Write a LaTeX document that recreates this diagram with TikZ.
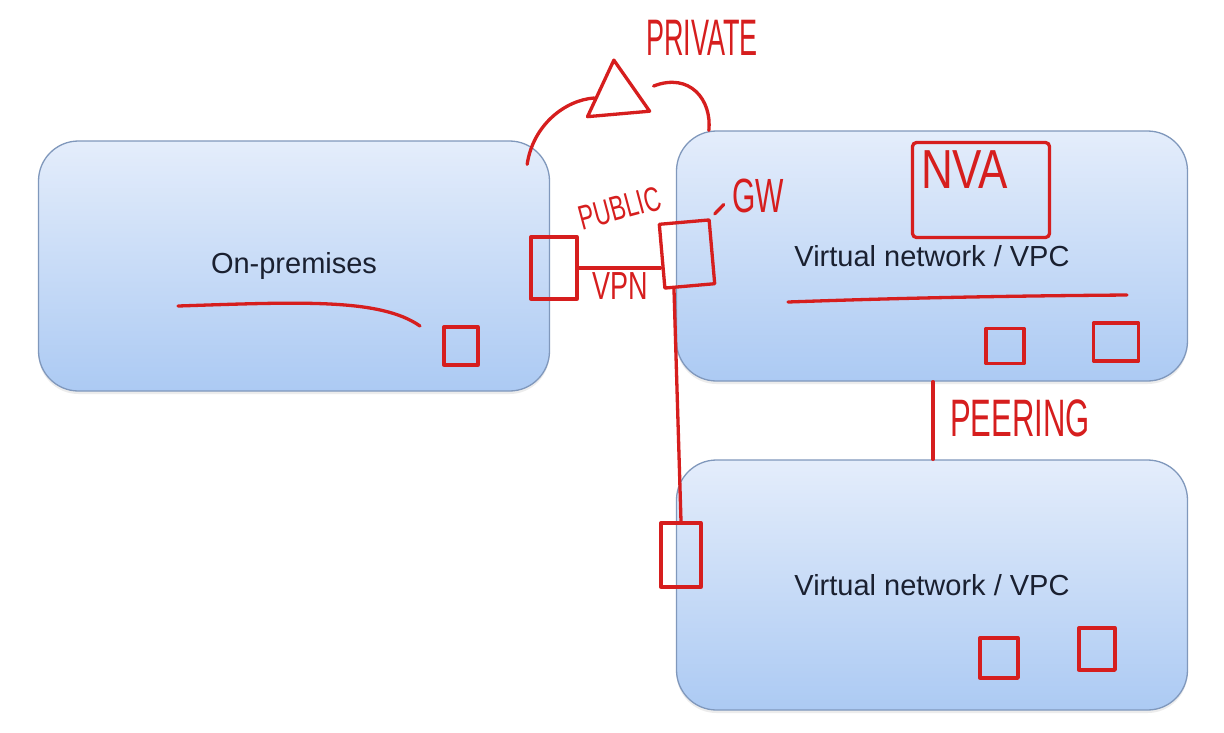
\documentclass[tikz,border=0pt]{standalone}
\usepackage{fontspec}
\setmainfont{Liberation Sans}
\usepackage{graphicx}
\usepackage{xcolor}
\usetikzlibrary{shapes.geometric, positioning, shadows}

\definecolor{boxtop}{RGB}{228,237,251}
\definecolor{boxbot}{RGB}{172,202,243}
\definecolor{boxline}{RGB}{128,152,188}
\definecolor{penred}{RGB}{214,30,30}
\definecolor{labelink}{RGB}{26,32,48}

\newcommand{\penfont}[1]{\fontsize{#1}{#1}\selectfont}
\newcommand{\tallword}[2][1.45]{\scalebox{1}[#1]{#2}}

\begin{document}
\begin{tikzpicture}[
    x=1pt, y=-1pt,
    netbox/.style={rectangle, draw=boxline, line width=1.3pt, rounded corners=40pt, top color=boxtop, bottom color=boxbot, minimum width=511pt, minimum height=250pt, text=labelink, font=\fontsize{29}{33}\selectfont, drop shadow={opacity=0.15, shadow xshift=0pt, shadow yshift=-3pt}},
    pen/.style={draw=penred, line width=3.3pt, line cap=round, line join=round},
    sq/.style={pen, rectangle, inner sep=0pt},
    hand/.style={text=penred, inner sep=0pt}
]
\fill [white] (0,0) rectangle (1224,732);
\useasboundingbox (0,0) rectangle (1224,732);

% Networks
\node (onprem) [netbox] at (294,266) {On-premises};
\node (vpc1) [netbox] at (932,256) {Virtual network / VPC};
\node (vpc2) [netbox] at (932,585) {Virtual network / VPC};

% On-premises notes
\draw [pen] (178,306) .. controls (300,302) and (380,298) .. (420,326);
\node (opsq) [sq, minimum width=34pt, minimum height=38pt] at (461,346) {};

% VPN link
\node (vpnbox) [sq, minimum width=46pt, minimum height=62pt] at (554,268) {};
\node (gw) [sq, minimum width=50pt, minimum height=64pt, rotate=5] at (687,254) {};
\draw [pen] (vpnbox.east) -- (vpnbox.east -| gw.west);
\node (vpnlabel) [hand, font=\penfont{27}] at (620,286) {\tallword{VPN}};
\node (publabel) [hand, font=\penfont{23}, rotate=15] at (620,208) {\tallword[1.5]{PUBLIC}};
\node (gwlabel) [hand, font=\penfont{30}] at (758,196) {\tallword[1.6]{GW}};
\draw [pen, shorten <=6pt, shorten >=12pt] (gw.north east) -- (gwlabel.west);

% Private path
\node (priv) [pen, regular polygon, regular polygon sides=3, minimum size=72pt, inner sep=0pt, rotate=5] at (617,96) {};
\node (privlabel) [hand, font=\penfont{27}] at (702,38) {\tallword[1.9]{PRIVATE}};
\draw [pen] ([shift={(-23,24)}]onprem.north east) .. controls (533,125) and (565,100) .. (priv.west);
\draw [pen] ([shift={(14,-8)}]priv.east) .. controls (690,72) and (712,100) .. ([xshift=33pt]vpc1.north west);

% VPC contents
\node (nva) [sq, rounded corners=4pt, minimum width=137pt, minimum height=95pt] at (981,190) {};
\node (nvalabel) [hand, font=\penfont{44}, below right=10pt and 10pt of nva.north west] {\tallword[1.25]{NVA}};
\draw [pen] (788,302) .. controls (900,298) and (1000,296) .. (1127,295);
\node (vmsq1) [sq, minimum width=38pt, minimum height=35pt] at (1005,346) {};
\node (vmsq2) [sq, minimum width=45pt, minimum height=38pt] at (1116,342) {};

% Peering
\draw [pen] ([xshift=1pt]vpc1.south) -- ([xshift=1pt]vpc2.north);
\node (peerlabel) [hand, font=\penfont{31}] at (1020,418) {\tallword[1.7]{PEERING}};

% Second VPC
\node (linkbox) [sq, minimum width=40pt, minimum height=64pt] at (681,555) {};
\draw [pen] ([xshift=-16pt]gw.south) -- (linkbox.north);
\node (vmsq3) [sq, minimum width=38pt, minimum height=40pt] at (999,658) {};
\node (vmsq4) [sq, minimum width=36pt, minimum height=42pt] at (1097,649) {};

\end{tikzpicture}
\end{document}
